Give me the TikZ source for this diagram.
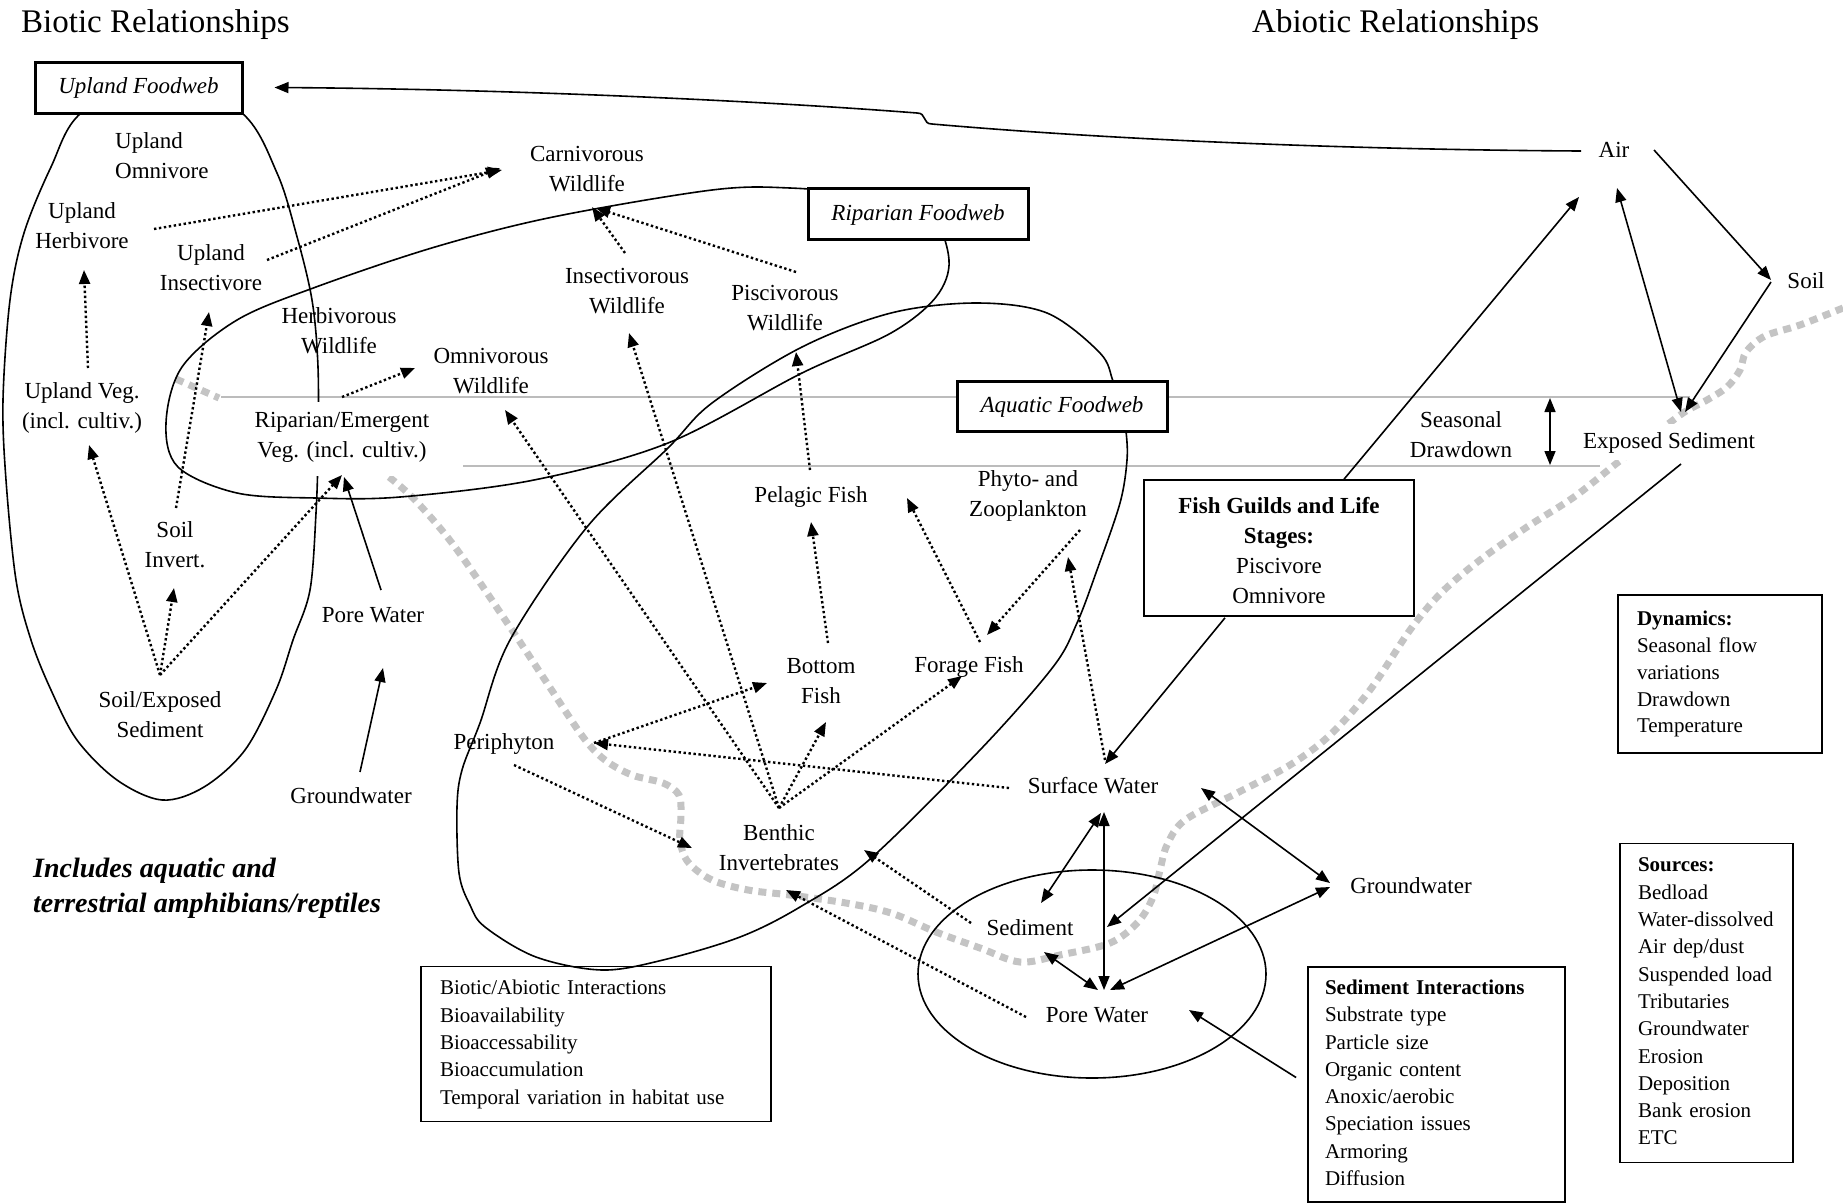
\documentclass[tikz,border=0pt]{standalone}
\usepackage{fontspec}
\setmainfont{Liberation Serif}
\usetikzlibrary{arrows.meta,calc}
\setlength\parindent{0pt}
\definecolor{levelgrey}{RGB}{188,188,188}
\definecolor{shoregrey}{RGB}{196,196,196}

\tikzset{
  lbl/.style={font=\fontsize{23}{30}\selectfont, align=center, inner sep=0pt,
    execute at begin node=\strut, execute at end node=\strut},
  webbox/.style={draw, line width=3pt, fill=white, inner sep=0pt,
    font=\fontsize{23}{30}\selectfont\itshape,
    execute at begin node=\strut, execute at end node=\strut},
  listbox/.style={draw, line width=1.8pt, inner ysep=0pt, align=left,
    font=\fontsize{21}{27.3}\selectfont,
    execute at begin node=\strut, execute at end node=\strut},
  zone/.style={line width=1.6pt},
  level/.style={line width=1.6pt, draw=levelgrey},
  shore/.style={line width=7pt, draw=shoregrey, dash pattern=on 8pt off 6pt},
  feed/.style={line width=2.4pt, dash pattern=on 2.4pt off 2.6pt,
    -{Triangle[length=14pt,width=11pt]}},
  flow/.style={line width=1.6pt, -{Triangle[length=14pt,width=11pt]}},
  flowboth/.style={line width=1.6pt,
    {Triangle[length=14pt,width=11pt]}-{Triangle[length=14pt,width=11pt]}},
}

\begin{document}
\begin{tikzpicture}[x=1pt,y=-1pt]
\useasboundingbox (0,0) rectangle (1843,1203);
\fill[white] (0,0) rectangle (1843,1203);

% water levels and shoreline
\draw[level] (221,397) -- (1690,397);
\draw[level] (462,466) -- (1600,466);
\draw[shore] (176,379) -- (219,398);
\draw[shore] plot[smooth, tension=0.55] coordinates {
  (389,477) (415,500) (455,547) (512,630) (547,683) (583,737) (605,760)
  (632,775) (663,783) (679,795) (681,815) (680,840) (688,862) (712,880)
  (748,890) (790,895) (846,903) (891,913) (936,932) (980,948) (1020,962)
  (1060,955) (1110,943) (1138,922) (1153,897) (1160,870) (1167,845)
  (1185,820) (1237,793) (1290,765) (1330,735) (1370,690) (1410,630)
  (1441,593) (1480,560) (1527,527) (1574,497) (1617,463) (1650,438)
  (1683,413) (1707,400) (1727,387) (1740,370) (1746,352) (1765,336)
  (1800,325) (1843,308)};

% food web zones
\draw[zone] plot[smooth cycle, tension=0.55] coordinates {
  (160,72) (242,113) (277,173) (296,233) (312,300) (318,367) (318,450)
  (316,513) (310,590) (293,640) (276,690) (245,750) (204,787) (162,800)
  (117,780) (77,740) (51,690) (31,640) (16,580) (6,480) (3,400) (10,300)
  (24,233) (51,167) (81,113)};
\draw[zone] plot[smooth cycle, tension=0.55] coordinates {
  (166,423) (182,367) (237,320) (316,287) (435,247) (553,217) (712,190)
  (790,188) (870,196) (930,215) (949,260) (936,297) (891,333) (802,373)
  (668,443) (534,480) (400,497) (316,498) (237,493) (178,467)};
\draw[zone] plot[smooth cycle, tension=0.55] coordinates {
  (976,303) (1047,313) (1100,353) (1113,381) (1122,406) (1126,431)
  (1127,460) (1120,503) (1097,570) (1077,623) (1053,667) (980,750)
  (869,860) (800,907) (740,937) (663,960) (602,970) (536,957) (485,927)
  (470,905) (459,873) (457,807) (462,770) (480,723) (510,640) (587,527)
  (668,448) (712,403) (802,347) (891,313)};
\draw[zone] (1092,974) ellipse [x radius=174, y radius=104];

% headings and notes
\node[anchor=base west, inner sep=0pt, font=\fontsize{33}{40}\selectfont]
  (bhead) at (21,32) {Biotic Relationships};
\node[anchor=base west, inner sep=0pt, font=\fontsize{33}{40}\selectfont]
  (ahead) at (1252,32) {Abiotic Relationships};
\node[anchor=west, inner sep=0pt, align=left,
  font=\fontsize{28}{35}\selectfont\bfseries\itshape,
  execute at begin node=\strut, execute at end node=\strut]
  (amph) at (33,890.5) {Includes aquatic and\\terrestrial amphibians/reptiles};

% food web boxes
\node[webbox, minimum width=207pt, minimum height=51pt] (upfood) at (138.5,87.5) {Upland Foodweb};
\node[webbox, minimum width=220pt, minimum height=51pt] (ripfood) at (918,214) {Riparian Foodweb};
\node[webbox, minimum width=210pt, minimum height=50pt] (aqfood) at (1062,406) {Aquatic Foodweb};

% biotic compartments
\node[lbl, align=left, anchor=west] (upomni) at (115,160.5) {Upland\\Omnivore};
\node[lbl] (upherb) at (82,230.5) {Upland\\Herbivore};
\node[lbl] (upins) at (211,272.5) {Upland\\Insectivore};
\node[lbl] (herbw) at (339,335) {Herbivorous\\Wildlife};
\node[lbl] (omniw) at (491,375.5) {Omnivorous\\Wildlife};
\node[lbl] (carnw) at (587,173.5) {Carnivorous\\Wildlife};
\node[lbl] (insw) at (627,295.5) {Insectivorous\\Wildlife};
\node[lbl] (pisw) at (785,312.5) {Piscivorous\\Wildlife};
\node[lbl] (upveg) at (82,410.5) {Upland Veg.\\(incl. cultiv.)};
\node[lbl, fill=white, minimum width=241pt, minimum height=74pt] (ripveg) at (342,439)
  {Riparian/Emergent\\Veg. (incl. cultiv.)};
\node[lbl] (soilinv) at (175,549.5) {Soil\\Invert.};
\node[lbl] (porew1) at (373,616) {Pore Water};
\node[lbl] (soilexp) at (160,719.5) {Soil/Exposed\\Sediment};
\node[lbl] (gw1) at (351,797) {Groundwater};
\node[lbl] (pelagic) at (811,496) {Pelagic Fish};
\node[lbl] (plankton) at (1028,498.5) {Phyto- and\\Zooplankton};
\node[lbl] (botfish) at (821,685.5) {Bottom\\Fish};
\node[lbl] (forage) at (969,666) {Forage Fish};
\node[lbl] (periph) at (504,743) {Periphyton};
\node[lbl] (benthic) at (779,852.5) {Benthic\\Invertebrates};

% abiotic compartments
\node[lbl] (surfw) at (1093,787) {Surface Water};
\node[lbl] (sed) at (1030,929) {Sediment};
\node[lbl] (porew2) at (1097,1016) {Pore Water};
\node[lbl] (gw2) at (1411,887) {Groundwater};
\node[lbl] (air) at (1614,151) {Air};
\node[lbl] (soil) at (1806,282) {Soil};
\node[lbl, fill=white, inner sep=3pt] (expsed) at (1669,442) {Exposed Sediment};
\node[lbl] (drawdown) at (1461,439) {Seasonal\\Drawdown};

% text boxes
\node[draw, line width=1.6pt, fill=white, inner sep=0pt, align=center,
  font=\fontsize{23}{30}\selectfont, minimum width=270pt, minimum height=136pt,
  execute at end node=\strut]
  (fishguild) at (1279,548)
  {\rule{0pt}{29pt}\textbf{Fish Guilds and Life}\\\textbf{Stages:}\\Piscivore\\Omnivore};
\node[listbox, inner xsep=19pt, text width=166pt, minimum height=158pt,
  font=\fontsize{21}{26.8}\selectfont] (dyn) at (1720,674)
  {\textbf{Dynamics:}\\Seasonal flow\\variations\\Drawdown\\Temperature};
\node[listbox, inner xsep=18pt, text width=137pt, minimum height=319pt] (sources) at (1706.5,1003)
  {\textbf{Sources:}\\Bedload\\Water-dissolved\\Air dep/dust\\Suspended load\\Tributaries\\Groundwater\\Erosion\\Deposition\\Bank erosion\\ETC};
\node[listbox, inner xsep=17pt, text width=223pt, minimum height=235pt] (sedint) at (1436.5,1084.5)
  {\textbf{Sediment Interactions}\\Substrate type\\Particle size\\Organic content\\Anoxic/aerobic\\Speciation issues\\Armoring\\Diffusion};
\node[listbox, inner xsep=19pt, text width=312pt, minimum height=155pt] (bioabio) at (596,1044)
  {Biotic/Abiotic Interactions\\Bioavailability\\Bioaccessability\\Bioaccumulation\\Temporal variation in habitat use};

% upland food web links
\draw[feed] ($(upherb)+(72,-1.5)$) -- ($(carnw)+(-85,-3.5)$);
\draw[feed] ($(upins)+(56,-12.5)$) -- ($(carnw)+(-87,-5.5)$);
\draw[feed] ($(upveg)+(6,-42.5)$) -- ($(upherb)+(2,39.5)$);
\draw[feed] ($(soilinv)+(1,-41.5)$) -- ($(upins)+(-2,39.5)$);
\draw[feed] ($(soilexp)+(0,-44.5)$) -- ($(upveg)+(7,34.5)$);
\draw[feed] ($(soilexp)+(0,-44.5)$) -- ($(soilinv)+(-1,38.5)$);
\draw[feed] ($(soilexp)+(0,-44.5)$) -- ($(ripveg)+(0,36)$);
\draw[feed] ($(ripveg)+(0,-42)$) -- ($(omniw)+(-76,-7.5)$);
\draw[flow] ($(porew1)+(8,-26)$) -- ($(ripveg)+(2,38)$);
\draw[flow] ($(gw1)+(9,-25)$) -- ($(porew1)+(10,52)$);

% riparian food web links
\draw[feed] ($(insw)+(-2,-42.5)$) -- ($(carnw)+(5,33.5)$);
\draw[feed] ($(pisw)+(11,-40.5)$) -- ($(carnw)+(9,34.5)$);
\draw[feed] ($(pelagic)+(-1,-26)$) -- ($(pisw)+(11,39.5)$);
\draw[feed] ($(benthic)+(0,-44.5)$) -- ($(omniw)+(14,34.5)$);
\draw[feed] ($(benthic)+(0,-44.5)$) -- ($(insw)+(2,37.5)$);

% aquatic food web links
\draw[feed] ($(botfish)+(7,-42.5)$) -- ($(pelagic)+(0,26)$);
\draw[feed] ($(forage)+(11,-24)$) -- ($(pelagic)+(96,2)$);
\draw[feed] ($(plankton)+(52,31.5)$) -- ($(forage)+(18,-31)$);
\draw[feed] ($(surfw)+(12,-27)$) -- ($(plankton)+(40,58.5)$);
\draw[feed] ($(benthic)+(0,-44.5)$) -- ($(botfish)+(5,36.5)$);
\draw[feed] ($(benthic)+(0,-44.5)$) -- ($(forage)+(-7,10)$);
\draw[feed] ($(periph)+(90,0)$) -- ($(botfish)+(-54,-2.5)$);
\draw[feed] ($(surfw)+(-84,1)$) -- ($(periph)+(90,0)$);
\draw[feed] ($(periph)+(10,22)$) -- ($(benthic)+(-87,-4.5)$);
\draw[feed] ($(sed)+(-59,-6)$) -- ($(benthic)+(85,-2.5)$);
\draw[feed] ($(porew2)+(-71,1)$) -- ($(benthic)+(7,37.5)$);

% abiotic transfers
\draw[flow] ($(air)+(-33,0)$) .. controls (1400,150) and (1150,143) .. (932,124)
  .. controls (922,124) and (927,113) .. (917,113)
  .. controls (750,100) and (500,89) .. ($(upfood.east)+(31,0)$);
\draw[flowboth] ($(air)+(3,37)$) -- ($(expsed)+(12,-30)$);
\draw[flow] ($(air)+(40,-1)$) -- ($(soil)+(-35,-2)$);
\draw[flow] ($(soil)+(-35,0)$) -- ($(expsed)+(16,-30)$);
\draw[flow] ($(fishguild.north)+(65,0)$) -- ($(air)+(-35,46)$);
\draw[flow] ($(expsed)+(12,22)$) -- ($(sed)+(77,-2)$);
\draw[flow] ($(fishguild.south)+(-54,1)$) -- ($(surfw)+(12,-23)$);
\draw[flowboth] ($(surfw)+(8,26)$) -- ($(sed)+(11,-26)$);
\draw[flowboth] ($(surfw)+(11,25)$) -- ($(porew2)+(7,-26)$);
\draw[flowboth] ($(sed)+(14,23)$) -- ($(porew2)+(1,-26)$);
\draw[flowboth] ($(porew2)+(13,-26)$) -- ($(gw2)+(-81,0)$);
\draw[flowboth] ($(surfw)+(108,1)$) -- ($(gw2)+(-81,-4)$);
\draw[flow] ($(sedint.west)+(-11,-7)$) -- ($(porew2)+(92,-6)$);
\draw[flowboth] ($(drawdown)+(89,-41)$) -- ($(drawdown)+(89,26)$);
\end{tikzpicture}
\end{document}
